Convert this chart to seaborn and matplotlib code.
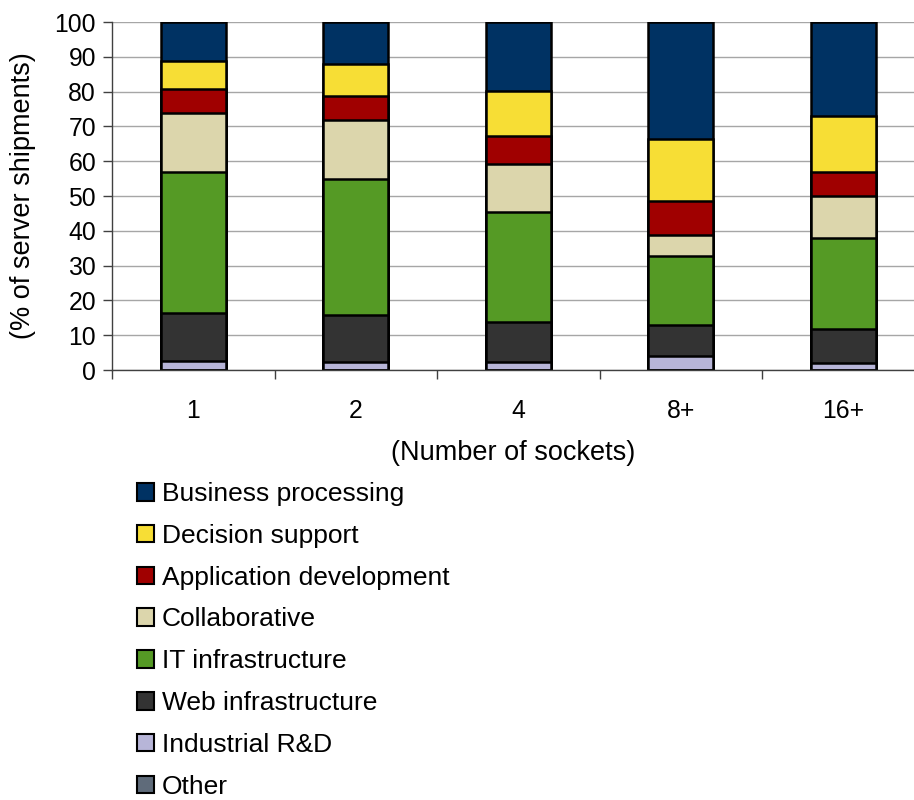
import matplotlib
matplotlib.use("Agg")
import matplotlib.pyplot as plt
from matplotlib.patches import Patch
import numpy as np
import pandas as pd
import seaborn as sns

# Server shipments by workload, share per socket count (bottom to top)
sockets = ["1", "2", "4", "8+", "16+"]
other = [0.0, 0.0, 0.0, 0.0, 0.0]
industrial_rd = [2.7, 2.4, 2.4, 4.1, 1.9]
web_infrastructure = [13.6, 13.4, 11.5, 8.8, 9.9]
it_infrastructure = [40.5, 39.0, 31.4, 20.0, 26.1]
collaborative = [17.0, 16.9, 14.0, 5.9, 12.0]
application_development = [7.0, 7.1, 7.8, 9.8, 7.0]
decision_support = [8.1, 9.1, 13.2, 17.7, 16.0]
business_processing = [11.1, 12.1, 19.7, 33.7, 27.1]

series = [
    ("Other", other, "#5F6B7A"),
    ("Industrial R&D", industrial_rd, "#B7B5D8"),
    ("Web infrastructure", web_infrastructure, "#333333"),
    ("IT infrastructure", it_infrastructure, "#559A25"),
    ("Collaborative", collaborative, "#DCD6AC"),
    ("Application development", application_development, "#A00000"),
    ("Decision support", decision_support, "#F7DE35"),
    ("Business processing", business_processing, "#003263"),
]

sns.set_theme(style="white")
plt.rcParams["font.family"] = ["Liberation Sans", "DejaVu Sans"]
plt.rcParams["text.color"] = "black"
plt.rcParams["axes.labelcolor"] = "black"
plt.rcParams["xtick.color"] = "black"
plt.rcParams["ytick.color"] = "black"

fig = plt.figure(figsize=(9.14, 8.0), dpi=100)
ax = fig.add_axes([112 / 914, 1 - 370 / 800, 1 - 112 / 914, (370 - 22) / 800])

# cumulative tops, drawn from the topmost segment down so each bar overlays the previous
tops = np.cumsum(np.array([s[1] for s in series]), axis=0)
for (name, vals, color), top in reversed(list(zip(series, tops))):
    df = pd.DataFrame({"sockets": sockets, "top": top})
    sns.barplot(data=df, x="sockets", y="top", order=sockets, color=color,
                saturation=1, width=0.4, edgecolor="black", linewidth=1.8,
                errorbar=None, ax=ax, zorder=3)

ax.set_xlim(-0.5, (914 - 112) / 162.5 - 0.5)
ax.set_ylim(0, 100)
ax.set_yticks(np.arange(0, 101, 10))
ax.yaxis.grid(True, color="#A6A6A6", linewidth=1.0, zorder=0)
ax.set_axisbelow(True)

for side in ["top", "right"]:
    ax.spines[side].set_visible(False)
for side in ["left", "bottom"]:
    ax.spines[side].set_color("#404040")
    ax.spines[side].set_linewidth(1.0)
    ax.spines[side].set_zorder(4)

ax.tick_params(axis="y", which="major", direction="out", length=6.5, width=1.0,
               color="#404040", labelcolor="black", labelsize=17.8, pad=5, left=True)
ax.set_xticks(range(len(sockets)))
ax.set_xticklabels(sockets)
ax.tick_params(axis="x", which="major", length=0, labelsize=17.8, labelcolor="black", pad=21)
ax.set_xticks(np.arange(-0.5, 4.0, 1.0), minor=True)
ax.tick_params(axis="x", which="minor", direction="out", length=6.5, width=1.0,
               color="#404040", bottom=True)

ax.set_xlabel("(Number of sockets)", fontsize=19.5, labelpad=12, color="black")
ax.set_ylabel("(% of server shipments)", fontsize=19.5, labelpad=13, color="black")

handles = [Patch(facecolor=c, edgecolor="black", linewidth=1.5, label=n)
           for n, _, c in reversed(series)]
leg = fig.legend(handles=handles, loc="upper left", bbox_to_anchor=(137 / 914, 1 - 482 / 800),
                 frameon=False, fontsize=19, handlelength=0.65, handleheight=0.65,
                 handletextpad=0.3, labelspacing=0.675, borderpad=0, borderaxespad=0)
for t in leg.get_texts():
    t.set_color("black")

fig.savefig("out.png", dpi=100)
